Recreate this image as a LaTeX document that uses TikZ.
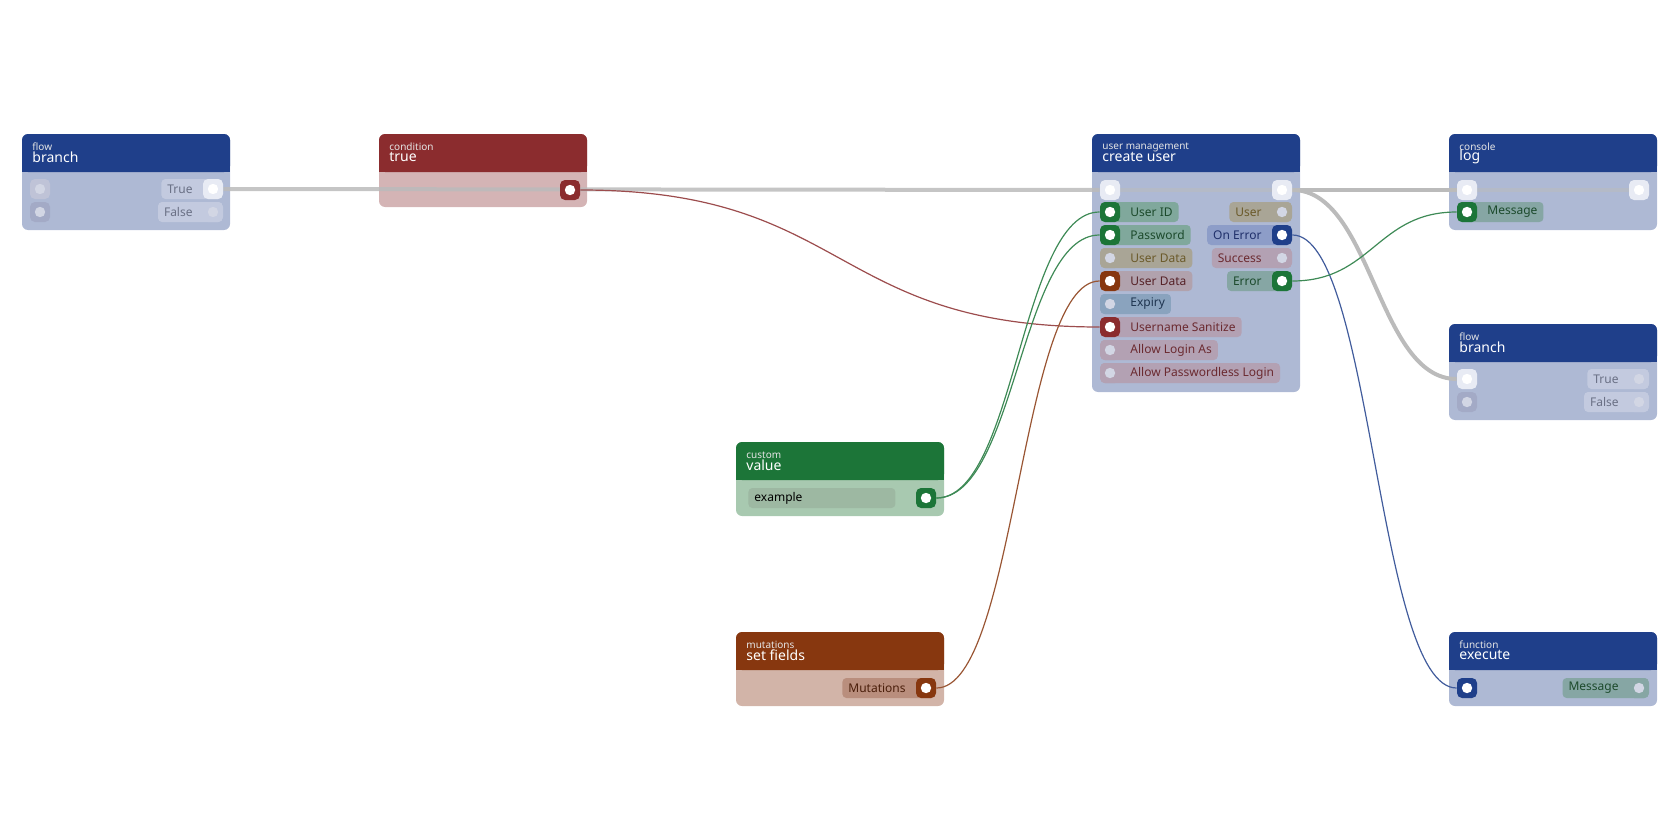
\documentclass[tikz,border=0pt]{standalone}
\usepackage{fontspec}
\setmainfont{Noto Sans}
\usetikzlibrary{positioning}
\pgfdeclarelayer{bodies}
\pgfdeclarelayer{edges}
\pgfsetlayers{bodies,edges,main}

\definecolor{hblue}{HTML}{1F3F8A}  \definecolor{bblue}{HTML}{AEB9D4}
\definecolor{hred}{HTML}{8B2C2E}   \definecolor{bred}{HTML}{D4B4B5}
\definecolor{hgreen}{HTML}{1C7538} \definecolor{bgreen}{HTML}{A8C9B0}
\definecolor{horange}{HTML}{87370F}\definecolor{borange}{HTML}{D2B4A8}
\definecolor{pwhite}{HTML}{E8EBF4} \definecolor{pmute}{HTML}{A3AAC6}
\definecolor{dmute}{HTML}{D2D6E4}
\definecolor{lgreen}{HTML}{80A89C} \definecolor{tgreen}{HTML}{1C4A2C}
\definecolor{lsand}{HTML}{A9A596}  \definecolor{tsand}{HTML}{6B5A2A}
\definecolor{lrose}{HTML}{B3A1B3}  \definecolor{trose}{HTML}{6B2A30}
\definecolor{lsky}{HTML}{8AA3BE}   \definecolor{tsky}{HTML}{1F3550}
\definecolor{lblue}{HTML}{8D9DC8}  \definecolor{tblue}{HTML}{1F2F6A}
\definecolor{lpale}{HTML}{C3CADF}  \definecolor{tpale}{HTML}{6A7085}
\definecolor{lbrown}{HTML}{B98E7D} \definecolor{tbrown}{HTML}{4A1E0A}
\definecolor{lteal}{HTML}{86A6A4}  \definecolor{lfield}{HTML}{9DB8A2}
\definecolor{wire}{HTML}{BBBBBB}

% node box: x, top, bottom, header colour, body colour, category, title
\newcommand{\nodebox}[7]{%
  \begin{pgfonlayer}{bodies}
    \fill[#5, rounded corners=3pt] (#1,#2) rectangle ++(208,#3-#2);
    \fill[#4, rounded corners=3pt] (#1,#2) rectangle ++(208,38);
    \fill[#4] (#1,#2+20) rectangle ++(208,18);
  \end{pgfonlayer}
  \node[cat] at (#1+10,#2+13) {#6};
  \node[ttl] at (#1+10,#2+23) {#7};
}

\begin{document}
\begin{tikzpicture}[x=0.5pt,y=-0.5pt,
    % styles
    cat/.style={anchor=west, inner sep=0, text=white!80!gray, font=\fontsize{5}{6}\selectfont},
    ttl/.style={anchor=west, inner sep=0, text=white, font=\fontsize{7}{8}\selectfont},
    port/.style 2 args={fill=#1, minimum size=10pt, inner sep=0, rounded corners=2.5pt,
        path picture={\fill[#2] (path picture bounding box.center) circle (2.6pt);}},
    pill/.style 2 args={fill=#1, text=#2, rounded corners=2pt, minimum height=10pt,
        inner xsep=3pt, inner ysep=0, font=\fontsize{6}{7}\selectfont},
    wireedge/.style={draw=#1, line width=0.6pt},
    exec/.style={draw=wire, line width=2pt}
]
\useasboundingbox (0,0) rectangle (1680,840);

% flow branch (left)
\nodebox{22}{134}{230}{hblue}{bblue}{flow}{branch}
\node[port={pmute!70!white}{dmute}] (b1in) at (40,189) {};
\node[port={pmute}{dmute}] (b1in2) at (40,212) {};
\node[pill={lpale}{tpale}, anchor=east] at (223,189) {True\hspace*{12pt}};
\node[pill={lpale}{tpale}, anchor=east] at (223,212) {False\hspace*{12pt}};
\node[port={pwhite}{white}] (b1true) at (213,189) {};
\node[port={lpale}{dmute}] (b1false) at (213,212) {};

% condition true
\nodebox{379}{134}{207}{hred}{bred}{condition}{true}
\node[port={hred}{white}] (cond) at (570,190) {};

% create user
\nodebox{1092}{134}{392}{hblue}{bblue}{user management}{create user}
\node[port={pwhite}{white}] (cuin) at (1110,190) {};
\node[port={pwhite}{white}] (cuout) at (1282,190) {};
\node[pill={lgreen}{tgreen}, anchor=west] at (1100,212) {\hspace*{12pt}User ID};
\node[pill={lgreen}{tgreen}, anchor=west] at (1100,235) {\hspace*{12pt}Password};
\node[pill={lsand}{tsand}, anchor=west] at (1100,258) {\hspace*{12pt}User Data};
\node[pill={lrose!80!lsand}{trose!80!black}, anchor=west] at (1100,281) {\hspace*{12pt}User Data};
\node[pill={lsky}{tsky}, anchor=west] at (1100,304) {\hspace*{12pt}Expiry};
\node[pill={lrose}{trose}, anchor=west] at (1100,327) {\hspace*{12pt}Username Sanitize};
\node[pill={lrose}{trose}, anchor=west] at (1100,350) {\hspace*{12pt}Allow Login As};
\node[pill={lrose}{trose}, anchor=west] at (1100,373) {\hspace*{12pt}Allow Passwordless Login};
\node[port={hgreen}{white}] (uid) at (1110,212) {};
\node[port={hgreen}{white}] (pwd) at (1110,235) {};
\node[port={lsand}{dmute}] (udata1) at (1110,258) {};
\node[port={horange}{white}] (udata2) at (1110,281) {};
\node[port={lsky}{dmute}] (expiry) at (1110,304) {};
\node[port={hred}{white}] (sanitize) at (1110,327) {};
\node[port={lrose}{dmute}] (loginas) at (1110,350) {};
\node[port={lrose}{dmute}] (pwless) at (1110,373) {};
\node[pill={lsand}{tsand}, anchor=east] at (1292,212) {User\hspace*{12pt}};
\node[pill={lblue}{tblue}, anchor=east] at (1292,235) {On Error\hspace*{12pt}};
\node[pill={lrose}{trose}, anchor=east] at (1292,258) {Success\hspace*{12pt}};
\node[pill={lteal}{tgreen}, anchor=east] at (1292,281) {Error\hspace*{12pt}};
\node[port={lsand}{dmute}] (user) at (1282,212) {};
\node[port={hblue}{white}] (onerror) at (1282,235) {};
\node[port={lrose}{dmute}] (success) at (1282,258) {};
\node[port={hgreen}{white}] (error) at (1282,281) {};

% console log
\nodebox{1449}{134}{230}{hblue}{bblue}{console}{log}
\node[port={pwhite}{white}] (login) at (1467,190) {};
\node[port={pwhite}{white}] (logout) at (1639,190) {};
\node[pill={lteal}{tgreen}, anchor=west] at (1457,212) {\hspace*{12pt}Message};
\node[port={hgreen}{white}] (logmsg) at (1467,212) {};

% flow branch (right)
\nodebox{1449}{324}{420}{hblue}{bblue}{flow}{branch}
\node[port={pwhite}{white}] (b2in) at (1467,379) {};
\node[port={pmute}{dmute}] (b2in2) at (1467,402) {};
\node[pill={lpale}{tpale}, anchor=east] at (1649,379) {True\hspace*{12pt}};
\node[pill={lpale}{tpale}, anchor=east] at (1649,402) {False\hspace*{12pt}};
\node[port={lpale}{dmute}] (b2true) at (1639,379) {};
\node[port={lpale}{dmute}] (b2false) at (1639,402) {};

% custom value
\nodebox{736}{442}{516}{hgreen}{bgreen}{custom}{value}
\node[pill={lfield}{black}, anchor=west, text width=67.5pt, align=left] at (748,498) {example};
\node[port={hgreen}{white}] (val) at (926,498) {};

% mutations set fields
\nodebox{736}{632}{706}{horange}{borange}{mutations}{set fields}
\node[pill={lbrown}{tbrown}, anchor=east] at (936,688) {Mutations\hspace*{12pt}};
\node[port={horange}{white}] (mut) at (926,688) {};

% function execute
\nodebox{1449}{632}{706}{hblue}{bblue}{function}{execute}
\node[port={hblue}{white}] (exin) at (1467,688) {};
\node[pill={lteal}{tgreen}, anchor=east] at (1649,688) {Message\hspace*{12pt}};
\node[port={lteal}{dmute}] (exmsg) at (1639,688) {};

% connectors
\begin{pgfonlayer}{edges}
\draw[exec, draw opacity=0.85] (b1true) -- (cuin);
\draw[exec, draw opacity=0.5] (cuin) -- (cuout);
\draw[exec, draw opacity=0.5] (login) -- (logout);
\draw[exec] (cuout) -- (login);
\draw[exec] (cuout) .. controls +(90,0) and +(-90,0) .. (b2in);
\draw[wireedge=hred!85!white] (cond) .. controls +(280,0) and +(-280,0) .. (sanitize);
\draw[wireedge=hgreen!85!white] (val) .. controls +(90,0) and +(-90,0) .. (uid);
\draw[wireedge=hgreen!85!white] (val) .. controls +(90,0) and +(-90,0) .. (pwd);
\draw[wireedge=horange!85!white] (mut) .. controls +(90,0) and +(-90,0) .. (udata2);
\draw[wireedge=hblue!85!white] (onerror) .. controls +(90,0) and +(-90,0) .. (exin);
\draw[wireedge=hgreen!85!white] (error) .. controls +(90,0) and +(-90,0) .. (logmsg);
\end{pgfonlayer}
\end{tikzpicture}
\end{document}
